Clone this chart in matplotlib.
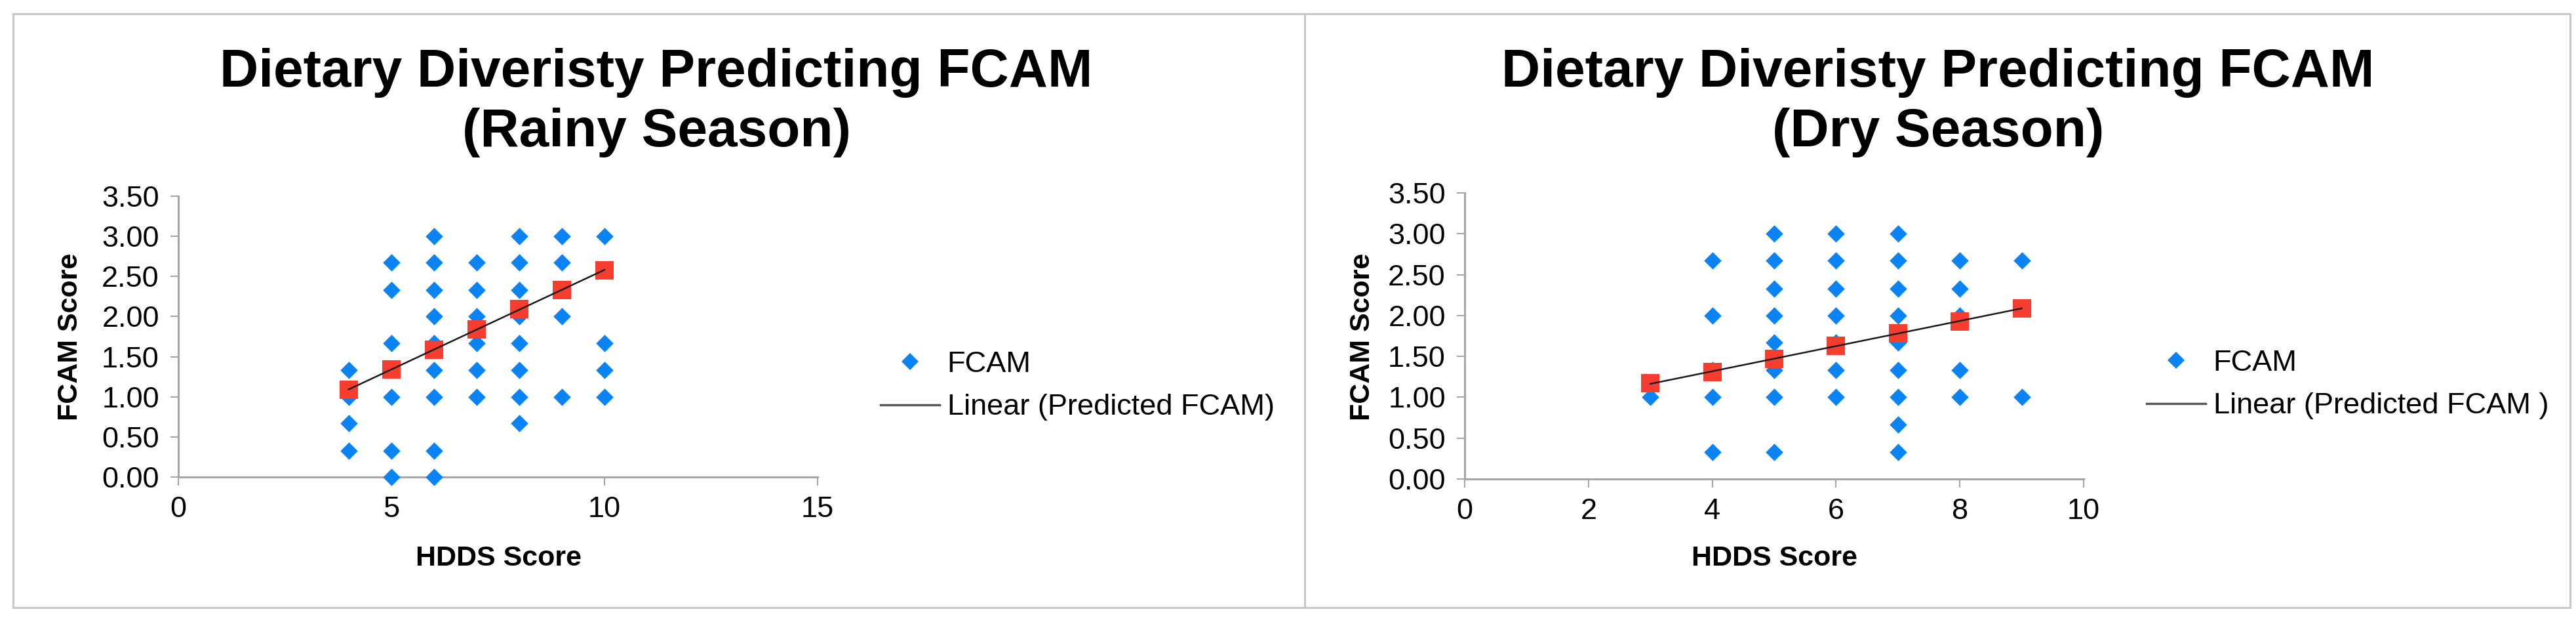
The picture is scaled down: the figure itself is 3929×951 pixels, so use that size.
import numpy as np
import matplotlib
matplotlib.use('Agg')
from matplotlib import pyplot as plt
from matplotlib.lines import Line2D

plt.rcParams['font.family'] = ['Liberation Sans', 'DejaVu Sans']

# observed FCAM scores (rainy season)
rainy_hdds = [4, 4, 4, 4,
              5, 5, 5, 5, 5, 5,
              6, 6, 6, 6, 6, 6, 6, 6, 6,
              7, 7, 7, 7, 7, 7,
              8, 8, 8, 8, 8, 8, 8, 8,
              9, 9, 9, 9, 9,
              10, 10, 10, 10]
rainy_fcam = [1.33, 1.00, 0.67, 0.33,
              2.67, 2.33, 1.67, 1.00, 0.33, 0.00,
              3.00, 2.67, 2.33, 2.00, 1.67, 1.33, 1.00, 0.33, 0.00,
              2.67, 2.33, 2.00, 1.67, 1.33, 1.00,
              3.00, 2.67, 2.33, 2.00, 1.67, 1.33, 1.00, 0.67,
              3.00, 2.67, 2.33, 2.00, 1.00,
              3.00, 1.67, 1.33, 1.00]
rainy_pred_hdds = [4, 5, 6, 7, 8, 9, 10]
rainy_pred_fcam = [1.09, 1.34, 1.59, 1.84, 2.09, 2.33, 2.58]

# observed FCAM scores (dry season)
dry_hdds = [3,
            4, 4, 4, 4, 4,
            5, 5, 5, 5, 5, 5, 5, 5,
            6, 6, 6, 6, 6, 6, 6,
            7, 7, 7, 7, 7, 7, 7, 7, 7,
            8, 8, 8, 8, 8,
            9, 9]
dry_fcam = [1.00,
            2.67, 2.00, 1.33, 1.00, 0.33,
            3.00, 2.67, 2.33, 2.00, 1.67, 1.33, 1.00, 0.33,
            3.00, 2.67, 2.33, 2.00, 1.67, 1.33, 1.00,
            3.00, 2.67, 2.33, 2.00, 1.67, 1.33, 1.00, 0.67, 0.33,
            2.67, 2.33, 2.00, 1.33, 1.00,
            2.67, 1.00]
dry_pred_hdds = [3, 4, 5, 6, 7, 8, 9]
dry_pred_fcam = [1.17, 1.31, 1.47, 1.63, 1.78, 1.93, 2.09]

rainy_xticks = [0, 5, 10, 15]
dry_xticks = [0, 2, 4, 6, 8, 10]
yticks = [0.0, 0.5, 1.0, 1.5, 2.0, 2.5, 3.0, 3.5]

W, H = 3929, 951
BLUE = '#0a84f5'
RED = '#f63d30'
GRID = '#a6a6a6'

fig = plt.figure(figsize=(W / 100.0, H / 100.0), dpi=100)

def px(x0, y0, x1, y1):
    # pixel box (top-left origin) -> figure fraction rect
    return [x0 / W, (H - y1) / H, (x1 - x0) / W, (y1 - y0) / H]

def panel(rect, hdds, fcam, pred_x, pred_y, xticks, season, title_x,
          label_x, ylabel_x, leg_xy, leg_label):
    ax = fig.add_axes(rect)
    ax.scatter(hdds, fcam, marker='D', s=13.5 ** 2, color=BLUE,
               linewidths=0, zorder=3, clip_on=False)
    ax.scatter(pred_x, pred_y, marker='s', s=20 ** 2, color=RED,
               linewidths=0, zorder=4, clip_on=False)
    # linear trendline through predicted values
    k, b = np.polyfit(pred_x, pred_y, 1)
    xs = np.array([min(pred_x), max(pred_x)])
    ax.plot(xs, k * xs + b, color='#1a1a1a', lw=1.8, zorder=5)

    ax.set_xlim(xticks[0], xticks[-1])
    ax.set_ylim(0, 3.5)
    ax.set_xticks(xticks)
    ax.set_yticks(yticks)
    ax.set_yticklabels(['%.2f' % v for v in yticks])
    for s in ['top', 'right']:
        ax.spines[s].set_visible(False)
    for s in ['left', 'bottom']:
        ax.spines[s].set_color(GRID)
        ax.spines[s].set_linewidth(2.2)
    ax.spines['bottom'].set_zorder(1)
    ax.tick_params(axis='both', colors=GRID, width=1.5, length=9,
                   labelsize=32.5, labelcolor='black')
    ax.tick_params(axis='x', pad=12)
    ax.tick_params(axis='y', pad=12)

    fig.text(title_x / W, (H - 132) / H, 'Dietary Diveristy Predicting FCAM',
             ha='center', va='baseline', fontsize=59, fontweight='bold')
    fig.text(title_x / W, (H - 223) / H, '(%s Season)' % season,
             ha='center', va='baseline', fontsize=59, fontweight='bold')
    fig.text(label_x / W, (H - 862) / H, 'HDDS Score', ha='center',
             va='baseline', fontsize=31, fontweight='bold')
    fig.text(ylabel_x / W, (H - 513) / H, 'FCAM Score', ha='center',
             va='center', rotation=90, fontsize=31, fontweight='bold')

    handles = [Line2D([], [], marker='D', ls='none', color=BLUE, ms=13.5,
                      mew=0),
               Line2D([], [], color='#595959', lw=2.5)]
    fig.legend(handles, ['FCAM', leg_label], loc='center left',
               bbox_to_anchor=(leg_xy[0] / W, (H - leg_xy[1]) / H),
               frameon=False, fontsize=32.5, borderpad=0, borderaxespad=0,
               handlelength=2.0, handletextpad=0.25, labelspacing=0.55)
    return ax

panel(px(272, 299, 1247, 727), rainy_hdds, rainy_fcam, rainy_pred_hdds,
      rainy_pred_fcam, rainy_xticks, 'Rainy', 1001, 760, 107,
      (1343, 588), 'Linear (Predicted FCAM)')
panel(px(2234, 294, 3178, 730), dry_hdds, dry_fcam, dry_pred_hdds,
      dry_pred_fcam, dry_xticks, 'Dry', 2956, 2706, 2078,
      (3274, 586), 'Linear (Predicted FCAM )')

# chart borders
for x0, x1 in [(20, 1990), (1990, 3920)]:
    fig.patches.append(plt.Rectangle((x0 / W, (H - 926) / H),
                                     (x1 - x0) / W, (926 - 21) / H,
                                     transform=fig.transFigure, fill=False,
                                     edgecolor='#c8c8c8', lw=2.2))

fig.savefig('out.png', dpi=100)
